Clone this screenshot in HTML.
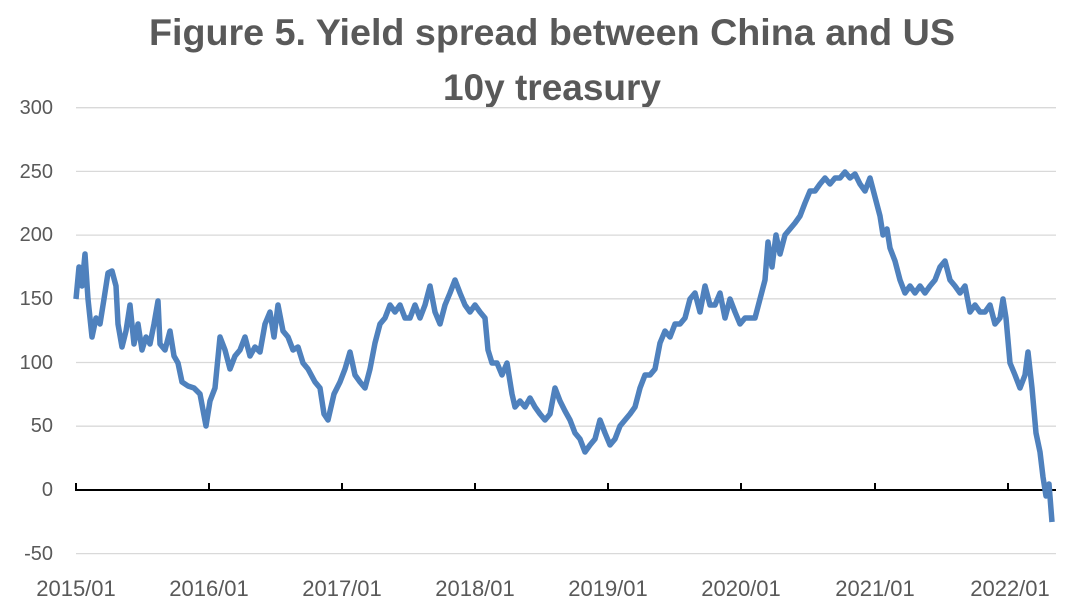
<!DOCTYPE html>
<html><head><style>
body{margin:0;background:#fff;}
svg{display:block;}
</style></head><body>
<svg width="1080" height="607" xmlns="http://www.w3.org/2000/svg" font-family="Liberation Sans, sans-serif">
<rect width="1080" height="607" fill="#fff"/>
<text x="552" y="45" font-size="37" font-weight="bold" fill="#595959" text-anchor="middle" textLength="806" lengthAdjust="spacingAndGlyphs">Figure 5. Yield spread between China and US</text>
<text x="552" y="100" font-size="37" font-weight="bold" fill="#595959" text-anchor="middle">10y treasury</text>
<g stroke="#d9d9d9" stroke-width="1.3">
<line x1="76" x2="1056" y1="107.7" y2="107.7"/>
<line x1="76" x2="1056" y1="171.4" y2="171.4"/>
<line x1="76" x2="1056" y1="235.1" y2="235.1"/>
<line x1="76" x2="1056" y1="298.8" y2="298.8"/>
<line x1="76" x2="1056" y1="362.5" y2="362.5"/>
<line x1="76" x2="1056" y1="426.2" y2="426.2"/>
<line x1="76" x2="1056" y1="553.6" y2="553.6"/>
</g>
<g font-size="20" fill="#595959" text-anchor="end">
<text x="53" y="114">300</text><text x="53" y="178">250</text><text x="53" y="241">200</text>
<text x="53" y="305">150</text><text x="53" y="369">100</text><text x="53" y="432">50</text>
<text x="53" y="496">0</text><text x="53" y="560">-50</text>
</g>
<g font-size="22" fill="#595959" text-anchor="middle">
<text x="76" y="596">2015/01</text><text x="209" y="596">2016/01</text><text x="342" y="596">2017/01</text>
<text x="475" y="596">2018/01</text><text x="608" y="596">2019/01</text><text x="741" y="596">2020/01</text>
<text x="875" y="596">2021/01</text><text x="1010" y="596">2022/01</text>
</g>
<g stroke="#000" stroke-width="2">
<line x1="75" x2="1056" y1="490" y2="490"/>
<line x1="76" x2="76" y1="483" y2="490"/><line x1="209" x2="209" y1="483" y2="490"/>
<line x1="342" x2="342" y1="483" y2="490"/><line x1="475" x2="475" y1="483" y2="490"/>
<line x1="608" x2="608" y1="483" y2="490"/><line x1="741" x2="741" y1="483" y2="490"/>
<line x1="875" x2="875" y1="483" y2="490"/><line x1="1008" x2="1008" y1="483" y2="490"/>
</g>
<polyline fill="none" stroke="#4f81bd" stroke-width="5.5" stroke-linejoin="round" points="76,299 79,267 82,286 85,254 88,299 92,337 96,318 100,324 104,299 108,273 112,271 116,286 118,324 122,347 126,331 130,305 134,344 138,324 142,350 146,337 150,344 154,324 158,301 160,344 165,350 170,331 174,356 178,363 182,382 188,386 194,388 200,394 206,426 210,401 215,388 220,337 225,350 230,369 235,356 240,350 245,337 250,356 255,347 260,352 265,324 270,312 274,337 278,305 283,331 288,337 293,350 298,347 303,363 308,369 315,382 320,388 324,414 328,420 334,394 340,382 345,369 350,352 355,375 360,382 365,388 370,369 375,343 380,324 385,318 390,305 395,312 400,305 405,318 410,318 415,305 420,318 425,305 430,286 435,312 440,324 445,305 450,293 455,280 460,293 465,305 470,312 475,305 480,312 485,318 488,350 492,363 497,363 502,375 507,363 512,394 515,407 520,401 525,407 530,398 535,407 540,414 545,420 550,414 555,388 560,401 565,411 570,420 575,433 580,439 585,452 590,445 595,439 600,420 605,433 610,445 615,439 620,426 625,420 630,414 635,407 640,388 645,375 650,375 655,369 660,343 665,331 670,337 675,324 680,324 685,318 690,299 695,293 700,312 705,286 710,305 715,305 720,293 725,318 730,299 735,312 740,324 745,318 750,318 755,318 760,299 765,280 768,242 772,267 776,235 780,254 785,235 790,229 795,223 800,216 805,203 810,191 815,191 820,184 825,178 830,184 835,178 840,178 845,172 850,178 855,174 860,184 865,191 870,178 875,197 880,216 883,235 887,229 890,248 895,261 900,280 905,293 910,286 915,293 920,286 925,293 930,286 935,280 940,267 945,261 950,280 955,286 960,293 965,286 970,312 975,305 980,312 985,312 990,305 995,324 1000,318 1003,299 1006,318 1010,363 1015,375 1020,388 1025,375 1028,352 1032,388 1036,433 1040,452 1043,477 1046,496 1049,484 1052,522"/>
</svg>
</body></html>
